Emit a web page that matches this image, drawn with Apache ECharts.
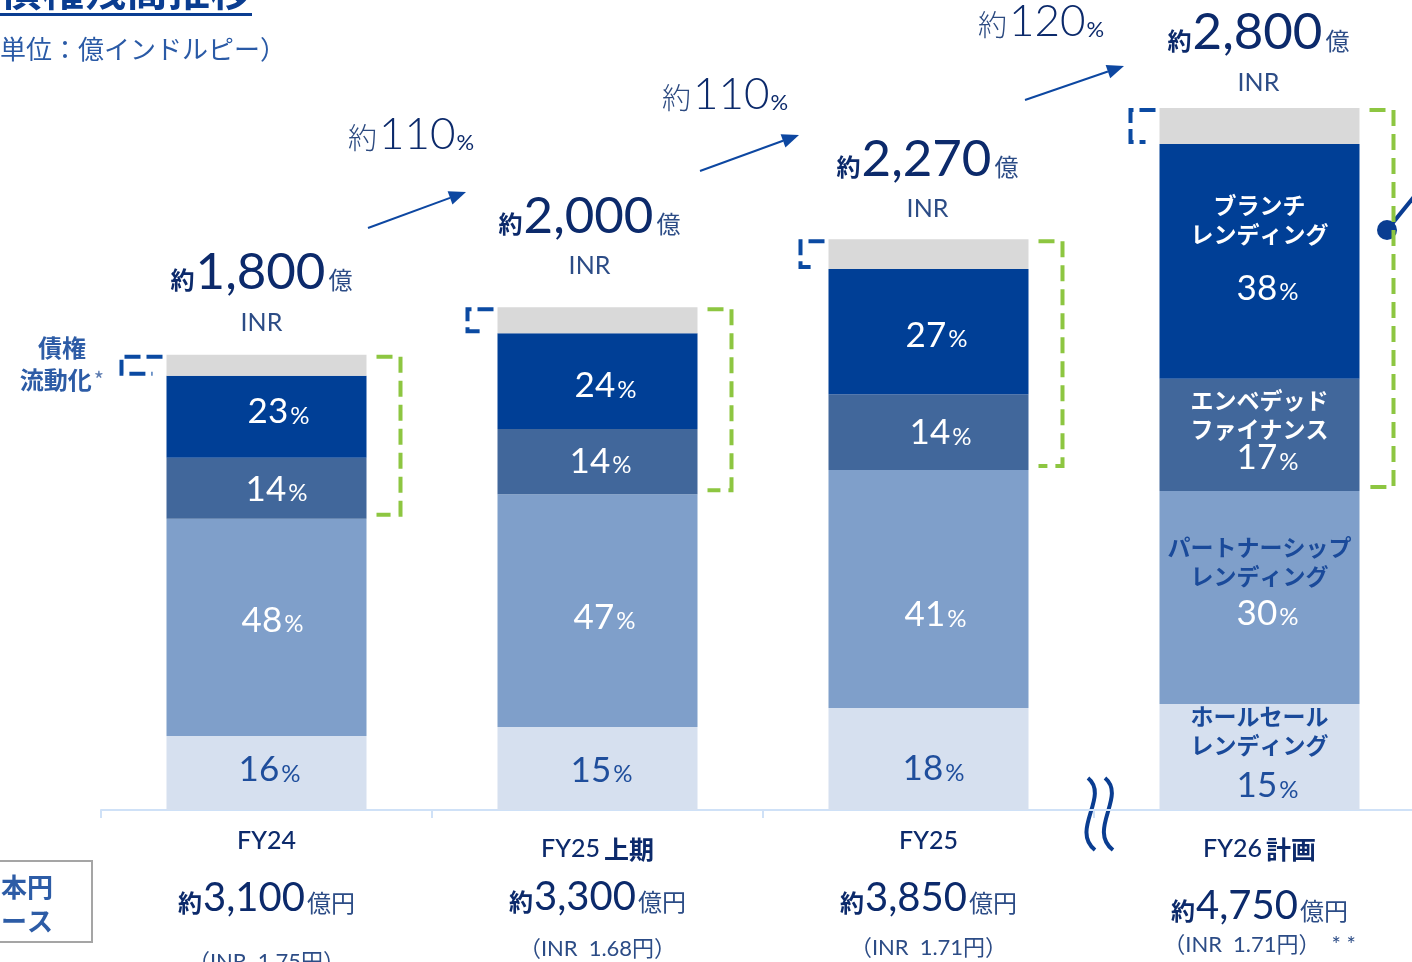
<!DOCTYPE html>
<html><head><meta charset="utf-8">
<script src="https://cdn.jsdelivr.net/npm/echarts@6/dist/echarts.min.js"></script>
<style>html,body{margin:0;padding:0;background:#fff}#c{width:1412px;height:962px}</style>
</head><body><div id="c"></div>
<script>
// ---- data (億INR) ----
const categories = ['FY24', 'FY25 上期', 'FY25', 'FY26 計画'];
const wholesale   = [295, 330, 406, 422];
const partnership = [864, 927, 947, 848];
const embedded    = [243, 259, 302, 446];
const branch      = [326, 382, 498, 935];
const securitized = [84, 103, 119, 143];
const pctWholesale   = [16, 15, 18, 15];
const pctPartnership = [48, 47, 41, 30];
const pctEmbedded    = [14, 14, 14, 17];
const pctBranch      = [23, 24, 27, 38];
const inrTotalLabels = ['1,800', '2,000', '2,270', '2,800'];
const jpyTotalLabels = ['3,100', '3,300', '3,850', '4,750'];
const fxRates = ['1.75', '1.68', '1.71', '1.71'];
const growthLabels = ['110', '110', '120'];
const segmentNames = {
  branch: ['ブランチ', 'レンディング'],
  embedded: ['エンベデッド', 'ファイナンス'],
  partnership: ['パートナーシップ', 'レンディング'],
  wholesale: ['ホールセール', 'レンディング']
};

// ---- styles ----
const NAVY = '#0c2a6b', SUB = '#2c4c86', BLUE_TXT = '#1f4e9c';
const NUM = 'Lato, "Noto Sans CJK JP", sans-serif';
const JP = '"Noto Sans CJK JP", sans-serif';
const C_GRAY = '#d9d9d9', C_DARK = '#003f96', C_MID = '#41679b', C_LIGHT = '#7f9fca', C_PALE = '#d6e0ef';

function segData(values, pcts, opt) {
  return values.map((v, i) => {
    const last = i === values.length - 1;
    const lh = last ? opt.numLH : 40;
    const rich = {
      n: {fontFamily: NUM, fontSize: 35, color: opt.numColor, lineHeight: lh, padding: last ? [0, 0, 0, 16] : 0},
      p: {fontFamily: NUM, fontSize: 24, color: opt.numColor, lineHeight: lh, padding: [8, 0, 0, 2]},
      t: {fontFamily: JP, fontSize: 23, fontWeight: 'bold', color: opt.nameColor, lineHeight: 29}
    };
    const text = (last ? opt.names.map(s => '{t|' + s + '}').join('\n') + '\n' : '') + '{n|' + pcts[i] + '}{p|%}';
    return {value: v, label: {show: true, position: 'inside', formatter: text, rich, offset: opt.offsets[i]}};
  });
}

const totalDist = [17, 26, 15, 10];
const totalDx = [-5, -8, -1, -1];
const grayData = securitized.map((v, i) => ({
  value: v,
  label: {
    show: true, position: 'top', distance: totalDist[i], offset: [totalDx[i], 0],
    formatter: '{y|約}{v|' + inrTotalLabels[i] + '}{o|億}\n{i|INR}',
    rich: {
      y: {fontFamily: JP, fontSize: 24, fontWeight: 'bold', color: NAVY, lineHeight: 70, padding: [15, 1, 0, 0]},
      v: {fontFamily: NUM, fontSize: 51, color: NAVY, lineHeight: 70},
      o: {fontFamily: JP, fontSize: 24, color: SUB, lineHeight: 70, padding: [15, 0, 0, 3]},
      i: {fontFamily: NUM, fontSize: 25, color: SUB, lineHeight: 30}
    }
  }
}));

const xLH = [[46, 68, 60], [62, 34, 70], [46, 68, 32], [62, 52, 26]];
const xRich = {};
xLH.forEach((L, i) => {
  xRich['f' + i] = {fontFamily: NUM, fontSize: 25, fontWeight: 500, color: NAVY, lineHeight: L[0]};
  xRich['k' + i] = {fontFamily: JP, fontSize: 25, fontWeight: 'bold', color: NAVY, lineHeight: L[0], padding: [0, 0, 0, 4]};
  xRich['y' + i] = {fontFamily: JP, fontSize: 24, fontWeight: 'bold', color: NAVY, lineHeight: L[1], padding: [10, 1, 0, 0]};
  xRich['v' + i] = {fontFamily: NUM, fontSize: 40, color: NAVY, lineHeight: L[1]};
  xRich['o' + i] = {fontFamily: JP, fontSize: 24, color: SUB, lineHeight: L[1], padding: [10, 0, 0, 2]};
  xRich['r' + i] = {fontFamily: NUM, fontSize: 22, color: SUB, lineHeight: L[2]};
});
function xFormatter(value, i) {
  const parts = value.split(' ');
  let l1 = '{f' + i + '|' + parts[0] + '}';
  if (parts[1]) l1 += '{k' + i + '|' + parts[1] + '}';
  const l2 = '{y' + i + '|約}{v' + i + '|' + jpyTotalLabels[i] + '}{o' + i + '|億円}';
  let l3 = '{r' + i + '|（INR\u2002' + fxRates[i] + '円）' + (i === 3 ? '\u2002* *' : '') + '}';
  return l1 + '\n' + l2 + '\n' + l3;
}

const blueLeft = [-145, -130, -128, -129];

function arrow(x1, y1, x2, y2) {
  const dx = x2 - x1, dy = y2 - y1, len = Math.hypot(dx, dy);
  const ux = dx / len, uy = dy / len, L = 17, W = 7;
  const bx = x2 - ux * L, by = y2 - uy * L;
  return [
    {type: 'line', shape: {x1, y1, x2: bx, y2: by}, style: {stroke: '#0d47a1', lineWidth: 2}},
    {type: 'polygon', shape: {points: [[x2, y2], [bx - uy * W, by + ux * W], [bx + uy * W, by - ux * W]]}, style: {fill: '#0d47a1'}}
  ];
}
function growthText(x, y, g) {
  return {type: 'text', x, y, style: {
    text: '{a|約}{b|' + g + '}{c|%}', align: 'center', verticalAlign: 'middle',
    rich: {
      a: {fontFamily: JP, fontSize: 29, fontWeight: 300, fill: '#2c4a80', lineHeight: 56, padding: [6, 2, 0, 0]},
      b: {fontFamily: NUM, fontSize: 44, fontWeight: 300, fill: NAVY, lineHeight: 56},
      c: {fontFamily: NUM, fontSize: 22, fill: NAVY, lineHeight: 56, padding: [16, 0, 0, 1]}
    }
  }};
}

const graphics = [
  {type: 'text', x: 0, y: -10, style: {text: '債権残高推移', fontFamily: JP, fontSize: 42, fontWeight: 'bold', fill: '#0a3d91', verticalAlign: 'middle'}},
  {type: 'rect', shape: {x: 0, y: 13, width: 252, height: 3}, style: {fill: '#0a3d91'}},
  {type: 'text', x: -26, y: 49, style: {text: '（単位：億インドルピー）', fontFamily: JP, fontSize: 26, fill: '#2a5aa6', verticalAlign: 'middle'}},
  {type: 'text', x: 62, y: 364, style: {text: '{b|債権}\n{b|流動化}{s|*}', align: 'center', verticalAlign: 'middle',
    rich: {b: {fontFamily: JP, fontSize: 24, fontWeight: 'bold', fill: '#2d5ca6', lineHeight: 32}, s: {fontFamily: JP, fontSize: 22, fill: '#5a7ab0', lineHeight: 32, padding: [0, 0, 0, 2]}}}},
  {type: 'rect', shape: {x: -10, y: 861, width: 102, height: 81}, style: {fill: 'none', stroke: '#a5a5a5', lineWidth: 2}},
  {type: 'text', x: 14, y: 904, style: {text: '日本円\nベース', fontFamily: JP, fontSize: 26, fontWeight: 'bold', fill: '#2d5ca6', lineHeight: 34, align: 'center', verticalAlign: 'middle'}},
  growthText(411, 135, growthLabels[0]),
  growthText(725, 95, growthLabels[1]),
  growthText(1041, 22, growthLabels[2]),
  ...arrow(368, 228, 466, 192),
  ...arrow(700, 171, 799, 135),
  ...arrow(1025, 100, 1124, 66),
  {type: 'bezierCurve', shape: {x1: 1088, y1: 778, cpx1: 1110, cpy1: 796, cpx2: 1070, cpy2: 830, x2: 1095, y2: 850}, style: {stroke: '#0a3d91', lineWidth: 4, fill: 'none'}},
  {type: 'bezierCurve', shape: {x1: 1105, y1: 778, cpx1: 1127, cpy1: 796, cpx2: 1087, cpy2: 830, x2: 1113, y2: 850}, style: {stroke: '#0a3d91', lineWidth: 4, fill: 'none'}},
  {type: 'line', shape: {x1: 1387, y1: 230, x2: 1422, y2: 187}, style: {stroke: '#0a3d91', lineWidth: 4}},
  {type: 'circle', shape: {cx: 1387, cy: 230, r: 10}, style: {fill: '#0a3d91'}}
];

const chart = echarts.init(document.getElementById('c'));
chart.setOption({
  animation: false,
  grid: {left: 101, top: 6, width: 1324, height: 804, outerBoundsMode: 'none'},
  xAxis: {
    type: 'category', data: categories,
    axisLine: {lineStyle: {color: '#cfe1f7', width: 2}},
    axisTick: {show: true, length: 8, lineStyle: {color: '#cfe1f7', width: 2}},
    axisLabel: {interval: 0, margin: 8, formatter: xFormatter, rich: xRich}
  },
  yAxis: {type: 'value', min: 0, max: 3200, show: false},
  series: [
    {type: 'bar', stack: 'a', barWidth: 200, itemStyle: {color: C_PALE},
      data: segData(wholesale, pctWholesale, {numColor: BLUE_TXT, nameColor: '#1a4a9a', names: segmentNames.wholesale, numLH: 52, offsets: [[3, -3], [4, 2], [5, 10], [0, 0]]})},
    {type: 'bar', stack: 'a', barWidth: 200, itemStyle: {color: C_LIGHT},
      data: segData(partnership, pctPartnership, {numColor: '#fff', nameColor: '#1a4a9a', names: segmentNames.partnership, numLH: 45, offsets: [[6, -7], [7, 7], [7, 26], [0, -13]]})},
    {type: 'bar', stack: 'a', barWidth: 200, itemStyle: {color: C_MID},
      data: segData(embedded, pctEmbedded, {numColor: '#fff', nameColor: '#fff', names: segmentNames.embedded, numLH: 29, offsets: [[10, 1], [3, 0], [12, 1], [0, -6]]})},
    {type: 'bar', stack: 'a', barWidth: 200, itemStyle: {color: C_DARK},
      data: segData(branch, pctBranch, {numColor: '#fff', nameColor: '#fff', names: segmentNames.branch, numLH: 79, offsets: [[12, -5], [8, 5], [8, 4], [0, -2]]})},
    {type: 'bar', stack: 'a', barWidth: 200, itemStyle: {color: C_GRAY}, data: grayData},
    {type: 'custom', silent: true, z: 5, data: categories.map((c, i) => [i, 0]),
      renderItem(params, api) {
        const i = params.dataIndex;
        const top = wholesale[i] + partnership[i] + embedded[i] + branch[i] + securitized[i];
        const p = api.coord([i, top]);
        const cx = p[0], yTop = p[1];
        const yGray = api.coord([i, top - securitized[i]])[1];
        const yGreen = api.coord([i, wholesale[i] + partnership[i]])[1];
        const xL = cx + blueLeft[i];
        return {type: 'group', children: [
          {type: 'polyline', shape: {points: [[cx - 104, yTop + 2], [xL, yTop + 2], [xL, yGray - 2], [cx - 114, yGray - 2]]},
            style: {stroke: '#0b4aa2', lineWidth: 4, fill: 'none', lineDash: [16, 6]}},
          {type: 'polyline', shape: {points: [[cx + 110, yTop + 2], [cx + 134, yTop + 2], [cx + 134, yGreen - 4], [cx + 110, yGreen - 4]]},
            style: {stroke: '#8dc641', lineWidth: 4, fill: 'none', lineDash: [16, 8]}}
        ]};
      }}
  ],
  graphic: graphics
});
</script></body></html>
